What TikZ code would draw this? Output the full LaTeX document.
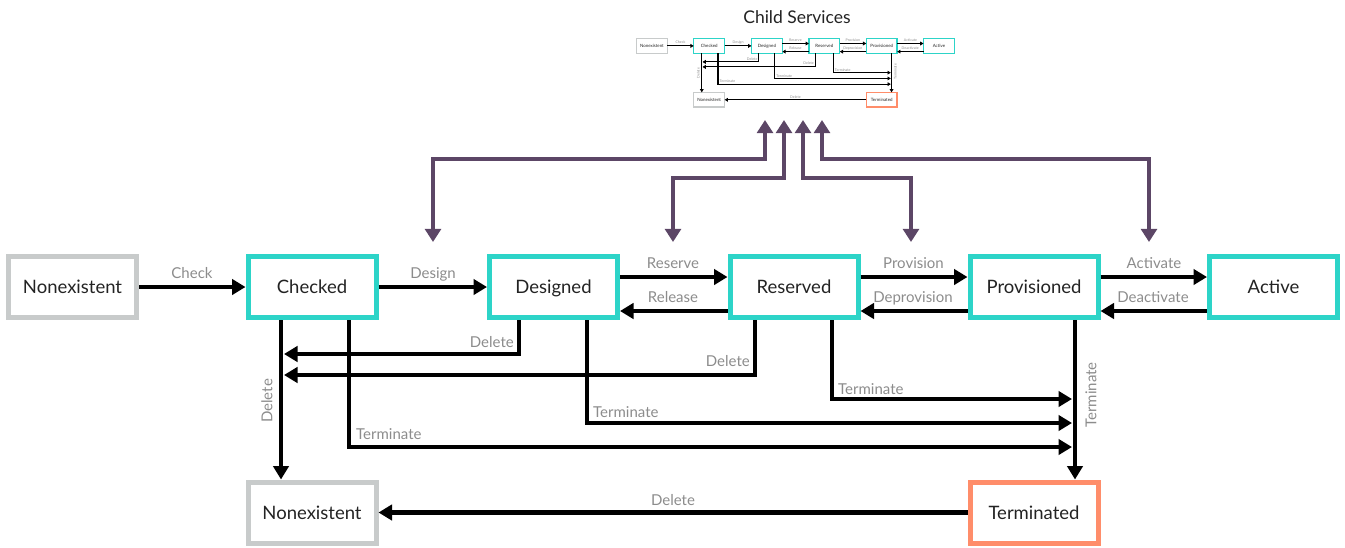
\documentclass[tikz,border=0pt]{standalone}
\usepackage{fontspec}
\setmainfont{Lato}
\usetikzlibrary{arrows.meta}
\definecolor{tealc}{RGB}{45,212,200}
\definecolor{grayc}{RGB}{200,203,203}
\definecolor{salmonc}{RGB}{255,141,106}
\definecolor{purplec}{RGB}{92,70,102}
\definecolor{lblgray}{RGB}{140,140,140}
\definecolor{txt}{RGB}{35,35,35}
\newcommand\lw{4.5pt}
\newcommand\blw{5pt}
\tikzset{
  state/.style={draw, line width=\blw, minimum width=128pt, minimum height=61pt, inner sep=0pt,
    font=\fontsize{18.5}{22}\selectfont, text=txt, text height=13pt, text depth=0pt},
  tealstate/.style={state, draw=tealc},
  graystate/.style={state, draw=grayc},
  salmonstate/.style={state, draw=salmonc},
  arr/.style={line width=\lw, -{Triangle[length=0pt 3, width=0pt 3.4]}},
  parr/.style={line width=\lw, draw=purplec, {Triangle[length=0pt 2.9, width=0pt 3.5]}-{Triangle[length=0pt 2.9, width=0pt 3.5]}},
  lbl/.style={text=lblgray, font=\fontsize{15}{18}\selectfont, inner sep=0pt, text height=10.5pt, text depth=0pt},
}
\newcommand\fsm{%
  \node[graystate] (ne1) at (72.5,287) {Nonexistent};
  \node[tealstate] (chk) at (312,287) {Checked};
  \node[tealstate] (des) at (553.5,287) {Designed};
  \node[tealstate] (res) at (794,287) {Reserved};
  \node[tealstate] (prov) at (1034,287) {Provisioned};
  \node[tealstate] (act) at (1273.5,287) {Active};
  \node[graystate] (ne2) at (312,512.5) {Nonexistent};
  \node[salmonstate] (term) at (1034,512.5) {Terminated};
  \coordinate (d1) at (284,354);
  \coordinate (d2) at (284,375);
  \coordinate (t1) at (1072,399);
  \coordinate (t2) at (1072,423);
  \coordinate (t3) at (1072,447);
  \draw[arr] (ne1) -- (chk);
  \draw[arr] (chk) -- (des);
  \draw[arr] (des.east |- 0,277) -- (res.west |- 0,277);
  \draw[arr] (res.west |- 0,311) -- (des.east |- 0,311);
  \draw[arr] (res.east |- 0,277) -- (prov.west |- 0,277);
  \draw[arr] (prov.west |- 0,311) -- (res.east |- 0,311);
  \draw[arr] (prov.east |- 0,277) -- (act.west |- 0,277);
  \draw[arr] (act.west |- 0,311) -- (prov.east |- 0,311);
  \draw[arr] (des.south -| 519,0) |- (d1);
  \draw[arr] (res.south -| 755,0) |- (d2);
  \draw[arr] (res.south -| 832,0) |- (t1);
  \draw[arr] (des.south -| 587,0) |- (t2);
  \draw[arr] (chk.south -| 349,0) |- (t3);
  \draw[arr] (chk.south -| 281,0) -- (ne2.north -| 281,0);
  \draw[arr] (prov.south -| 1075,0) -- (term.north -| 1075,0);
  \draw[arr] (term) -- (ne2);
  \node[lbl] (lcheck) at (192,273.5) {Check};
  \node[lbl] (ldesign) at (433,273.5) {Design};
  \node[lbl] (lreserve) at (673,263.5) {Reserve};
  \node[lbl] (lrelease) at (673,297.5) {Release};
  \node[lbl] (lprov) at (913.5,263.5) {Provision};
  \node[lbl] (ldeprov) at (913,297.5) {Deprovision};
  \node[lbl] (lact) at (1154,263.5) {Activate};
  \node[lbl] (ldeact) at (1153,297.5) {Deactivate};
  \node[lbl, anchor=east] (ldel1) at (514,342) {Delete};
  \node[lbl, anchor=east] (ldel2) at (750,361) {Delete};
  \node[lbl, anchor=west] (lterm1) at (838,389) {Terminate};
  \node[lbl, anchor=west] (lterm2) at (593,412) {Terminate};
  \node[lbl, anchor=west] (lterm3) at (356,434) {Terminate};
  \node[lbl, rotate=90] (ldel3) at (267,401) {Delete};
  \node[lbl, rotate=90] (lterm4) at (1091,395) {Terminate};
  \node[lbl] (ldel4) at (673,500) {Delete};
}
\begin{document}
\begin{tikzpicture}[x=1pt, y=-1pt]
  \useasboundingbox (0,0) rectangle (1345,547);
  \fsm
  \node[font=\fontsize{17.5}{20}\selectfont, text=txt] (title) at (797,17) {Child Services};
  \begin{scope}[shift={(634.6,-22.7)}, scale=0.239, transform shape, name prefix=mini-]
    \renewcommand\lw{1.1pt}\renewcommand\blw{1.2pt}
    \fsm
  \end{scope}
  \coordinate (p1a) at (433,242); \coordinate (p1b) at (765,120);
  \coordinate (p2a) at (673,242); \coordinate (p2b) at (784,120);
  \coordinate (p3a) at (911,242); \coordinate (p3b) at (803,120);
  \coordinate (p4a) at (1149,242); \coordinate (p4b) at (822,120);
  \draw[parr] (p1a) |- (p1b |- 0,159) -- (p1b);
  \draw[parr] (p2a) |- (p2b |- 0,178) -- (p2b);
  \draw[parr] (p3a) |- (p3b |- 0,178) -- (p3b);
  \draw[parr] (p4a) |- (p4b |- 0,159) -- (p4b);
\end{tikzpicture}
\end{document}
